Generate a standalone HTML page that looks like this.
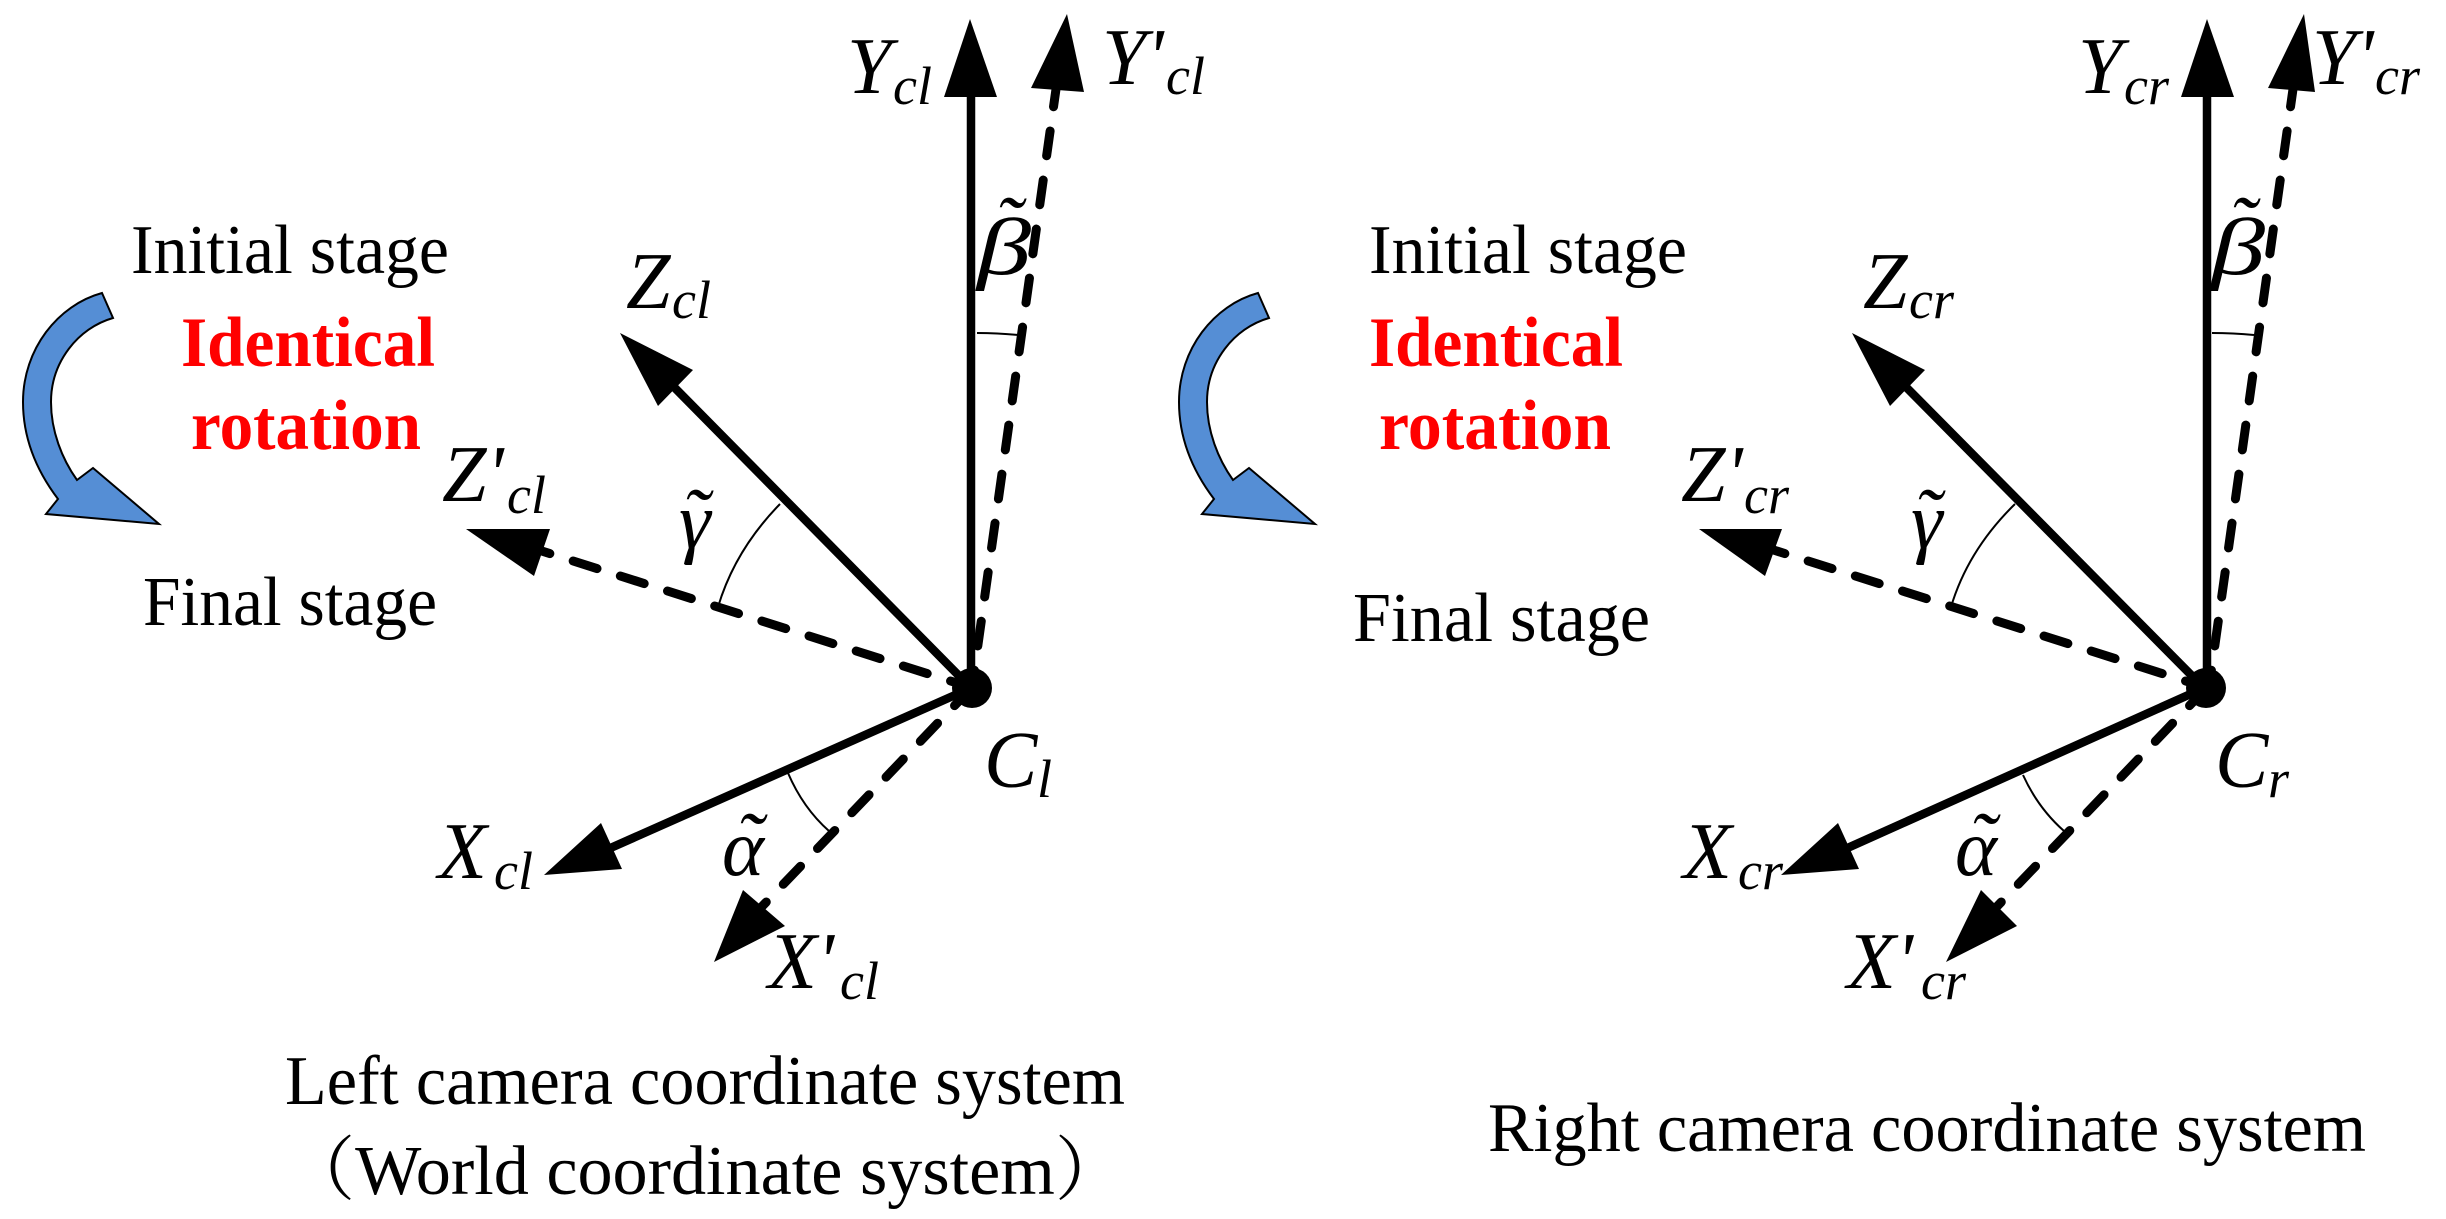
<!DOCTYPE html>
<html><head><meta charset="utf-8"><style>
html,body{margin:0;padding:0;background:#fff}
svg{display:block}
.t{font-family:"Liberation Serif","Noto Serif CJK SC",serif;font-size:70px;fill:#000}
.r{font-family:"Liberation Serif",serif;font-size:71px;font-weight:bold;fill:#f00}
.i{font-family:"Liberation Serif",serif;font-style:italic;font-size:80px;fill:#000}
.s{font-family:"Liberation Serif",serif;font-style:italic;font-size:54px;fill:#000}
.sol{stroke:#000;stroke-width:8.5;fill:none}
.das{stroke:#000;stroke-width:9;fill:none;stroke-dasharray:25 24.5;stroke-linecap:round}
.arc{stroke:#000;stroke-width:2;fill:none}
.blue{fill:#558ed5;stroke:#000;stroke-width:2}
</style></head><body>
<svg width="2446" height="1219" viewBox="0 0 2446 1219" xmlns="http://www.w3.org/2000/svg">
<rect width="2446" height="1219" fill="#fff"/>

<!-- Left system -->
<path class="blue" d="M102 293 L113 318 C78 328 51 362 51 402 C51 431 62 459 77 480 L93 468 L159 524 L46 514 L58 499 C36 470 23 438 23 402 C23 349 58 305 102 293 Z"/>
<line class="sol" x1="971" y1="688" x2="971" y2="90"/>
<polygon points="970,19 944,97 997,97"/>
<line class="das" x1="1057" y1="82" x2="973" y2="680"/>
<polygon points="1067,14 1031,88 1084,92"/>
<line class="sol" x1="971" y1="688" x2="672" y2="385"/>
<polygon points="620,333 693,370 658,406"/>
<line class="das" x1="526" y1="546" x2="960" y2="684"/>
<polygon points="466,529 550,529 534,576"/>
<line class="sol" x1="971" y1="688" x2="606" y2="850"/>
<polygon points="544,875 601,823 622,869"/>
<line class="das" x1="749" y1="920" x2="958" y2="702"/>
<polygon points="714,962 743,890 785,926"/>
<circle cx="972" cy="688" r="20"/>
<path class="arc" d="M977 333 Q998 333 1018 335"/>
<path class="arc" d="M780 504 Q735 550 718 607"/>
<path class="arc" d="M788 773 Q803 808 829 831"/>

<text class="t" x="131" y="273" textLength="318" lengthAdjust="spacingAndGlyphs">Initial stage</text>
<text class="r" x="181" y="366" textLength="254" lengthAdjust="spacingAndGlyphs">Identical</text>
<text class="r" x="191" y="449" textLength="230" lengthAdjust="spacingAndGlyphs">rotation</text>
<text class="t" x="143" y="625" textLength="294" lengthAdjust="spacingAndGlyphs">Final stage</text>
<text class="t" x="285" y="1104" textLength="840" lengthAdjust="spacingAndGlyphs">Left camera coordinate system</text>
<text class="t" x="285" y="1194" textLength="840" lengthAdjust="spacingAndGlyphs">（World coordinate system）</text>

<text class="i" x="847" y="93">Y</text><text class="s" x="893" y="104">cl</text>
<text class="i" x="1102" y="84">Y'</text><text class="s" x="1166" y="94">cl</text>
<text class="i" x="626" y="308">Z</text><text class="s" x="672" y="318">cl</text>
<text class="i" x="442" y="501">Z'</text><text class="s" x="507" y="513">cl</text>
<text class="i" x="438" y="878">X</text><text class="s" x="494" y="889">cl</text>
<text class="i" x="768" y="988">X'</text><text class="s" x="840" y="999">cl</text>
<text class="i" x="984" y="787">C</text><text class="s" x="1037" y="797">l</text>
<text class="i" x="977" y="274" textLength="54" lengthAdjust="spacingAndGlyphs">β</text><text class="i" x="995" y="252">˜</text>
<text class="i" x="679" y="548">γ</text><text class="i" x="682" y="544">˜</text>
<text class="i" x="722" y="875">α</text><text class="i" x="736" y="868">˜</text>

<!-- Right system -->
<path class="blue" d="M1258 293 L1269 318 C1234 328 1207 362 1207 402 C1207 431 1218 459 1233 480 L1249 468 L1315 524 L1202 514 L1214 499 C1192 470 1179 438 1179 402 C1179 349 1214 305 1258 293 Z"/>
<line class="sol" x1="2207" y1="688" x2="2207" y2="90"/>
<polygon points="2207,19 2181,97 2234,97"/>
<line class="das" x1="2294" y1="82" x2="2210" y2="680"/>
<polygon points="2304,14 2268,88 2315,92"/>
<line class="sol" x1="2204" y1="688" x2="1904" y2="385"/>
<polygon points="1852,333 1925,370 1890,406"/>
<line class="das" x1="1761" y1="546" x2="2195" y2="684"/>
<polygon points="1699,529 1782,529 1765,576"/>
<line class="sol" x1="2204" y1="688" x2="1843" y2="850"/>
<polygon points="1781,875 1838,823 1859,869"/>
<line class="das" x1="1984" y1="920" x2="2193" y2="702"/>
<polygon points="1946,962 1981,890 2017,926"/>
<circle cx="2206" cy="688" r="20"/>
<path class="arc" d="M2212 333 Q2233 333 2254 335"/>
<path class="arc" d="M2015 504 Q1968 550 1951 607"/>
<path class="arc" d="M2023 775 Q2038 808 2064 831"/>

<text class="t" x="1369" y="273" textLength="318" lengthAdjust="spacingAndGlyphs">Initial stage</text>
<text class="r" x="1369" y="366" textLength="254" lengthAdjust="spacingAndGlyphs">Identical</text>
<text class="r" x="1379" y="449" textLength="232" lengthAdjust="spacingAndGlyphs">rotation</text>
<text class="t" x="1353" y="641" textLength="297" lengthAdjust="spacingAndGlyphs">Final stage</text>
<text class="t" x="1488" y="1151" textLength="878" lengthAdjust="spacingAndGlyphs">Right camera coordinate system</text>

<text class="i" x="2078" y="93">Y</text><text class="s" x="2124" y="104">cr</text>
<text class="i" x="2312" y="84">Y'</text><text class="s" x="2375" y="94">cr</text>
<text class="i" x="1863" y="308">Z</text><text class="s" x="1909" y="318">cr</text>
<text class="i" x="1681" y="501">Z'</text><text class="s" x="1744" y="513">cr</text>
<text class="i" x="1683" y="878">X</text><text class="s" x="1738" y="889">cr</text>
<text class="i" x="1847" y="988">X'</text><text class="s" x="1921" y="999">cr</text>
<text class="i" x="2215" y="787">C</text><text class="s" x="2268" y="797">r</text>
<text class="i" x="2211" y="274" textLength="54" lengthAdjust="spacingAndGlyphs">β</text><text class="i" x="2229" y="252">˜</text>
<text class="i" x="1911" y="548">γ</text><text class="i" x="1914" y="544">˜</text>
<text class="i" x="1955" y="875">α</text><text class="i" x="1969" y="868">˜</text>
</svg>
</body></html>
